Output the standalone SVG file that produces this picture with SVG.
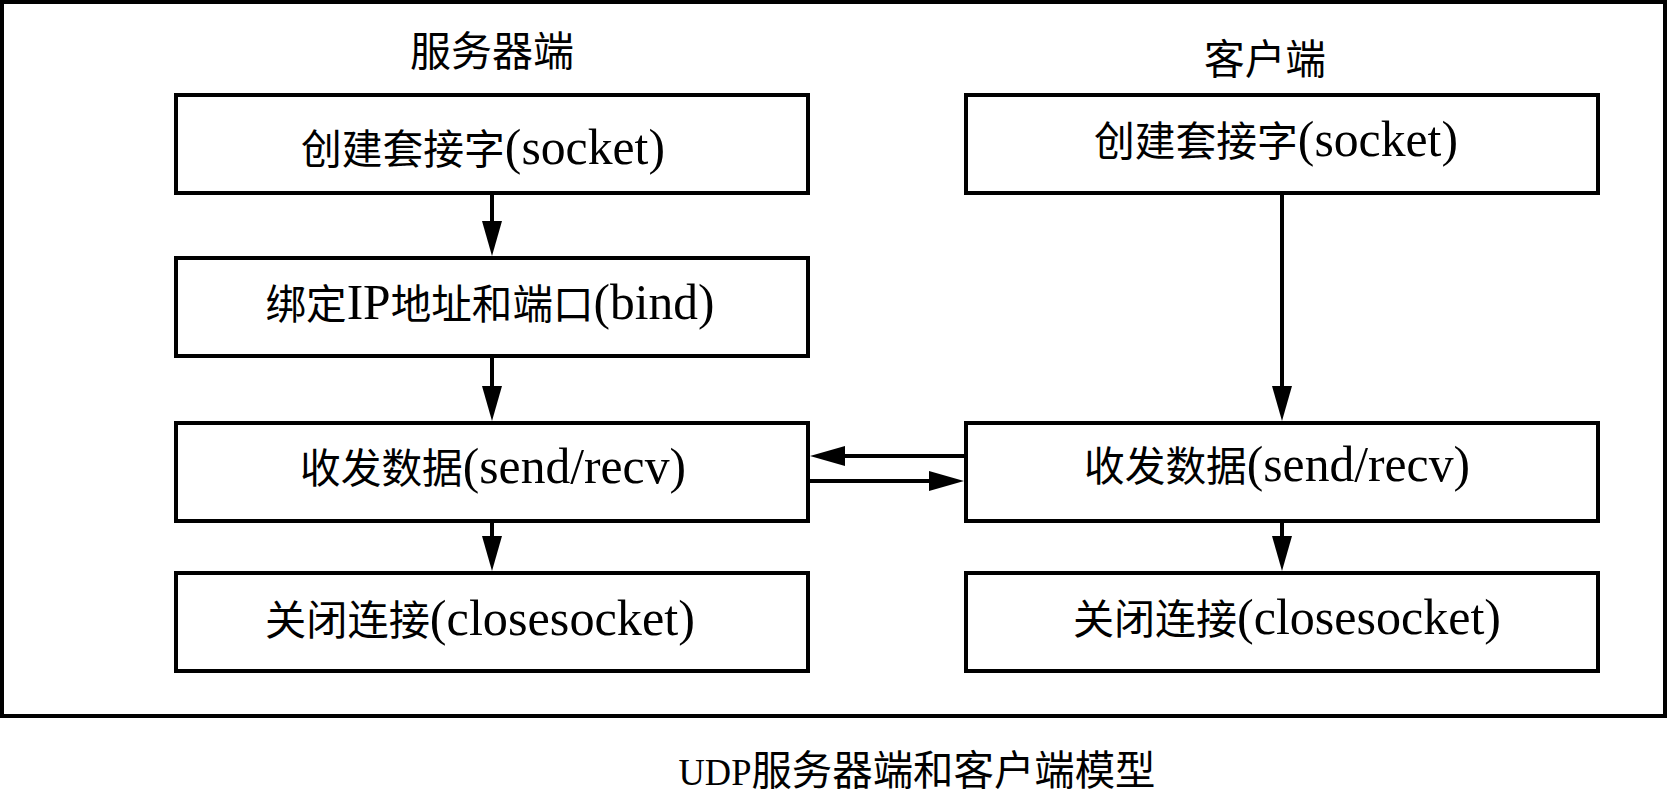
<svg xmlns="http://www.w3.org/2000/svg" width="1668" height="791" viewBox="0 0 1668 791">
  <style>
    .box { fill: #fff; stroke: #000; stroke-width: 4; }
    .frame { fill: #fff; stroke: #000; stroke-width: 4; }
    .t { font-family: "Liberation Serif", "Noto Sans CJK SC", serif; font-size: 41px; text-anchor: middle; fill: #000; }
    .l { font-size: 50px; }
    .u { font-size: 37px; }
    .conn line { stroke: #000; stroke-width: 4; fill: none; marker-end: url(#arrow); }
  </style>
  <defs>
    <marker id="arrow" markerUnits="userSpaceOnUse" markerWidth="36" markerHeight="22" refX="5" refY="10" orient="auto" viewBox="0 0 36 22">
      <path d="M0,0 L35,10 L0,20 Z" fill="#000"/>
    </marker>
  </defs>
  <rect width="1668" height="791" fill="#fff"/>
  <rect class="frame" x="2" y="2" width="1663" height="714"/>

  <g id="title-server"><text class="t" x="492" y="66" textLength="164" lengthAdjust="spacingAndGlyphs">服务器端</text></g>
  <g id="title-client"><text class="t" x="1265" y="74" textLength="122" lengthAdjust="spacingAndGlyphs">客户端</text></g>

  <g id="s-socket">
    <rect class="box" x="176" y="95" width="632" height="98"/>
    <text class="t" x="483" y="164" textLength="364" lengthAdjust="spacingAndGlyphs">创建套接字<tspan class="l">(socket)</tspan></text>
  </g>
  <g id="s-bind">
    <rect class="box" x="176" y="258" width="632" height="98"/>
    <text class="t" x="490" y="319" textLength="449" lengthAdjust="spacingAndGlyphs">绑定<tspan class="l">IP</tspan>地址和端口<tspan class="l">(bind)</tspan></text>
  </g>
  <g id="s-data">
    <rect class="box" x="176" y="423" width="632" height="98"/>
    <text class="t" x="493" y="483" textLength="386" lengthAdjust="spacingAndGlyphs">收发数据<tspan class="l">(send/recv)</tspan></text>
  </g>
  <g id="s-close">
    <rect class="box" x="176" y="573" width="632" height="98"/>
    <text class="t" x="480" y="635" textLength="430" lengthAdjust="spacingAndGlyphs">关闭连接<tspan class="l">(closesocket)</tspan></text>
  </g>

  <g id="c-socket">
    <rect class="box" x="966" y="95" width="632" height="98"/>
    <text class="t" x="1276" y="156" textLength="364" lengthAdjust="spacingAndGlyphs">创建套接字<tspan class="l">(socket)</tspan></text>
  </g>
  <g id="c-data">
    <rect class="box" x="966" y="423" width="632" height="98"/>
    <text class="t" x="1277" y="481" textLength="386" lengthAdjust="spacingAndGlyphs">收发数据<tspan class="l">(send/recv)</tspan></text>
  </g>
  <g id="c-close">
    <rect class="box" x="966" y="573" width="632" height="98"/>
    <text class="t" x="1287" y="634" textLength="428" lengthAdjust="spacingAndGlyphs">关闭连接<tspan class="l">(closesocket)</tspan></text>
  </g>

  <g id="connectors" class="conn">
    <line x1="492" y1="193" x2="492" y2="226"/>
    <line x1="492" y1="356" x2="492" y2="391"/>
    <line x1="492" y1="521" x2="492" y2="541"/>
    <line x1="1282" y1="193" x2="1282" y2="391"/>
    <line x1="1282" y1="521" x2="1282" y2="541"/>
    <line x1="964" y1="456" x2="840" y2="456"/>
    <line x1="810" y1="481" x2="934" y2="481"/>
  </g>

  <g id="caption"><text class="t" x="917" y="785" textLength="477" lengthAdjust="spacingAndGlyphs"><tspan class="u">UDP</tspan>服务器端和客户端模型</text></g>
</svg>
